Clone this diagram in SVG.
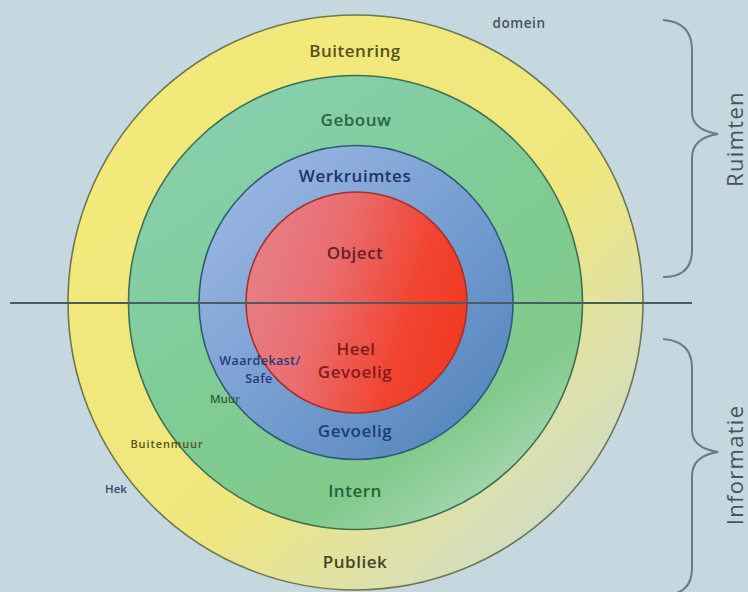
<svg xmlns="http://www.w3.org/2000/svg" width="748" height="592" viewBox="0 0 748 592">
<defs>
<linearGradient id="gY" x1="0.15" y1="0.1" x2="0.95" y2="0.95">
<stop offset="0" stop-color="#f3e97a"/>
<stop offset="0.55" stop-color="#efe77e"/>
<stop offset="0.8" stop-color="#dbe0b0"/>
<stop offset="1" stop-color="#c7d6d8"/>
</linearGradient>
<linearGradient id="gG" x1="0.2" y1="0" x2="0.9" y2="1">
<stop offset="0" stop-color="#86d1b0"/>
<stop offset="0.45" stop-color="#80cc95"/>
<stop offset="0.75" stop-color="#80ca8a"/>
<stop offset="1" stop-color="#bcdcc6"/>
</linearGradient>
<linearGradient id="gB" x1="0.1" y1="0.1" x2="0.9" y2="0.9">
<stop offset="0" stop-color="#9ab6e2"/>
<stop offset="0.5" stop-color="#789fd2"/>
<stop offset="1" stop-color="#5585bd"/>
</linearGradient>
<linearGradient id="gR" x1="0" y1="0.3" x2="1" y2="0.6">
<stop offset="0" stop-color="#e58088"/>
<stop offset="0.35" stop-color="#ea6e70"/>
<stop offset="0.75" stop-color="#f14430"/>
<stop offset="1" stop-color="#f03a22"/>
</linearGradient>
</defs>
<style>
.lbl{font-family:"Open Sans","Liberation Sans",sans-serif;text-anchor:middle;font-weight:600;}
.big{font-size:17px;letter-spacing:0.5px;}
.sm{font-size:12.5px;letter-spacing:0.4px;}
.side{font-family:"Open Sans","Liberation Sans",sans-serif;font-size:22px;letter-spacing:1.3px;fill:#46545f;text-anchor:middle;}
.brace{fill:none;stroke:#687b86;stroke-width:2;}
</style>
<rect width="748" height="592" fill="#c5d8df"/>
<g id="buitenring">
<circle cx="355.5" cy="302.5" r="287.5" fill="url(#gY)" stroke="#6f7552" stroke-width="1.6"/>
</g>
<g id="gebouw">
<circle cx="355.5" cy="302.5" r="227" fill="url(#gG)" stroke="#3f6f55" stroke-width="1.6"/>
</g>
<g id="werkruimtes">
<circle cx="356" cy="302.5" r="157" fill="url(#gB)" stroke="#2e5a78" stroke-width="1.6"/>
</g>
<g id="object">
<circle cx="356.5" cy="302.5" r="110.5" fill="url(#gR)" stroke="#a8302a" stroke-width="1.6"/>
</g>
<g id="connectors">
<line x1="10" y1="303" x2="692" y2="303" stroke="#4a5b66" stroke-width="2"/>
<path class="brace" d="M663,20 Q692,22 692,50 L692,112 Q692,130 718,134 Q692,138 692,158 L692,250 Q692,277 663,277"/>
<path class="brace" d="M663,339 Q692,341 692,368 L692,430 Q692,448 718,452 Q692,456 692,476 L692,568 Q692,595 663,595"/>
</g>
<g id="labels">
<text class="lbl big" x="355" y="57" fill="#55501c">Buitenring</text>
<text class="lbl big" x="356" y="126" fill="#286448">Gebouw</text>
<text class="lbl big" x="355" y="182" fill="#1f3264">Werkruimtes</text>
<text class="lbl big" x="355" y="259" fill="#63202e">Object</text>
<text class="lbl big" x="356" y="355" fill="#861818">Heel</text>
<text class="lbl big" x="355" y="378" fill="#861818">Gevoelig</text>
<text class="lbl big" x="355" y="437" fill="#203c74">Gevoelig</text>
<text class="lbl big" x="355" y="497" fill="#266236">Intern</text>
<text class="lbl big" x="355" y="568" fill="#444422">Publiek</text>
<text class="lbl sm" x="260" y="365" fill="#26397a">Waardekast/</text>
<text class="lbl sm" x="259" y="383" fill="#26397a">Safe</text>
<text class="lbl" x="225" y="403" font-size="11.5" fill="#2a6436">Muur</text>
<text class="lbl" x="167" y="448" font-size="11" letter-spacing="0.9" fill="#575520">Buitenmuur</text>
<text class="lbl" x="116" y="493" font-size="11.5" fill="#374868">Hek</text>
<text class="lbl" x="519" y="28" font-size="13.5" letter-spacing="0.6" fill="#46525e">domein</text>
<text class="side" transform="translate(743,139) rotate(-90)">Ruimten</text>
<text class="side" transform="translate(743,465) rotate(-90)">Informatie</text>
</g>
</svg>
